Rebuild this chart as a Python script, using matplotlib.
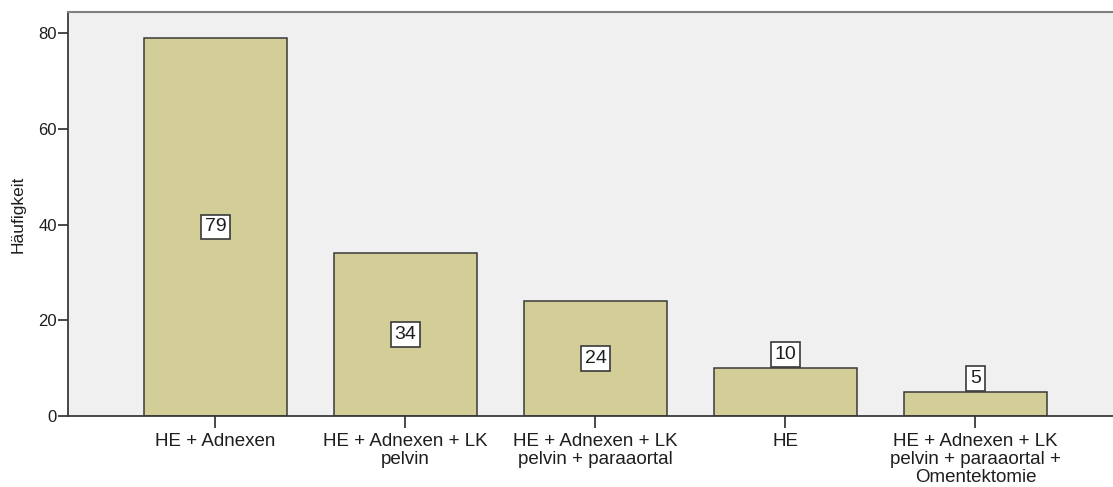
import matplotlib
matplotlib.use("Agg")
import matplotlib.pyplot as plt

categories = [
    "HE + Adnexen",
    "HE + Adnexen + LK\npelvin",
    "HE + Adnexen + LK\npelvin + paraaortal",
    "HE",
    "HE + Adnexen + LK\npelvin + paraaortal +\nOmentektomie",
]
counts = [79, 34, 24, 10, 5]
y_ticks = [0, 20, 40, 60, 80]

plt.rcParams["font.family"] = ["Liberation Sans", "DejaVu Sans"]

W, H = 1113, 487
fig = plt.figure(figsize=(W / 100, H / 100), dpi=100)
left, right, top, bottom = 68, 1113, 12, 416
ax = fig.add_axes([left / W, 1 - bottom / H, (right - left) / W, (bottom - top) / H])

ink = "#1E1E1E"
edge = "#3A3A3A"

ax.set_facecolor("#F0F0F0")
x = list(range(len(categories)))
ax.bar(x, counts, width=0.753, color="#D3CE98", edgecolor=edge, linewidth=1.1, zorder=2)

# value labels: centred in tall bars, sitting on top of short ones
for xi, v in zip(x, counts):
    yl = v / 2 if v >= 20 else v + 2.9
    ax.text(xi, yl, str(v), ha="center", va="center", fontsize=14, color=ink, zorder=3,
            bbox=dict(boxstyle="square,pad=0.2", facecolor="white", edgecolor=edge, linewidth=1.2))

ax.set_xlim(-0.776, 4.724)
ax.set_ylim(0, 84.4)
ax.set_xticks(x)
ax.set_xticklabels(categories, fontsize=13.5, color=ink, linespacing=1.1)
ax.set_yticks(y_ticks)
ax.set_yticklabels([str(t) for t in y_ticks], fontsize=12, color=ink)
ax.set_ylabel("Häufigkeit", fontsize=12.5, color=ink, labelpad=9)

ax.tick_params(axis="x", length=8.5, width=1.3, color=edge, pad=3.5)
ax.tick_params(axis="y", length=7.5, width=1.3, color=edge, pad=0.5)

ax.spines["right"].set_visible(False)
ax.spines["left"].set_color(edge)
ax.spines["left"].set_linewidth(1.3)
ax.spines["bottom"].set_color(edge)
ax.spines["bottom"].set_linewidth(1.3)
ax.spines["top"].set_color("#808080")
ax.spines["top"].set_linewidth(1.5)

fig.savefig("out.png", dpi=100)
